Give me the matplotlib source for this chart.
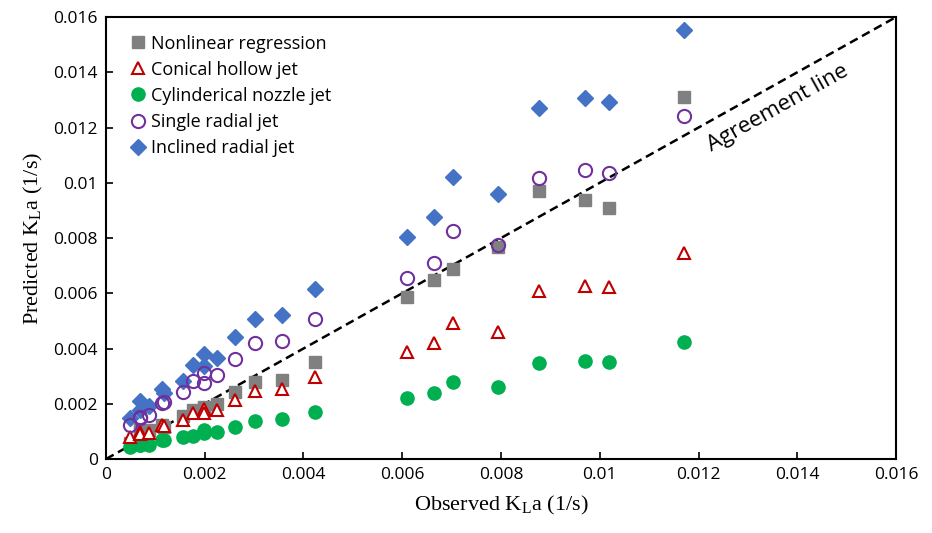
"""
Predicted vs observed KLa for the different jet types, with the 1:1 agreement line.
Values read off the published figure.
"""
import matplotlib
matplotlib.use("Agg")
import matplotlib.pyplot as plt
from matplotlib.ticker import FuncFormatter

# observed KLa (1/s), shared by all series
observed = [0.00049, 0.00068, 0.00069, 0.00088, 0.00113, 0.00118, 0.00157, 0.00177,
            0.00199, 0.00199, 0.00225, 0.00262, 0.00302, 0.00356, 0.00424, 0.0061,
            0.00664, 0.00702, 0.00794, 0.00877, 0.0097, 0.01019, 0.0117]

nonlinear = [0.00057, 0.00105, 0.00098, 0.00105, 0.00123, 0.00117, 0.00156, 0.00178,
             0.00189, 0.00185, 0.00199, 0.00244, 0.0028, 0.00286, 0.0035, 0.00588,
             0.00649, 0.00687, 0.00766, 0.00972, 0.00936, 0.0091, 0.01309]
conical = [0.00079, 0.00097, 0.0009, 0.00095, 0.00123, 0.0012, 0.00141, 0.00166,
           0.0018, 0.00166, 0.00178, 0.00214, 0.00247, 0.00253, 0.00298, 0.00389,
           0.00421, 0.00492, 0.00461, 0.0061, 0.00628, 0.00622, 0.00745]
cylindrical = [0.00042, 0.00051, 0.0005, 0.00051, 0.00069, 0.00069, 0.00079, 0.00083,
               0.00105, 0.00095, 0.00099, 0.00117, 0.00139, 0.00144, 0.00169, 0.0022,
               0.0024, 0.00278, 0.00262, 0.00347, 0.00356, 0.00353, 0.00423]
single_radial = [0.00123, 0.00147, 0.00152, 0.00159, 0.00204, 0.00208, 0.00244, 0.00284,
                 0.00311, 0.00276, 0.00304, 0.00361, 0.00419, 0.00429, 0.00506, 0.00655,
                 0.00711, 0.00824, 0.00775, 0.01017, 0.01047, 0.01037, 0.0124]
inclined_radial = [0.00147, 0.00211, 0.00178, 0.00192, 0.00253, 0.00238, 0.00284, 0.00341,
                   0.0038, 0.00337, 0.00367, 0.0044, 0.00507, 0.00522, 0.00616, 0.00804,
                   0.00877, 0.01022, 0.0096, 0.01272, 0.01308, 0.01293, 0.01554]

ticks = [0, 0.002, 0.004, 0.006, 0.008, 0.01, 0.012, 0.014, 0.016]
limit = 0.016

fig = plt.figure(figsize=(9.32, 5.33), dpi=100)
ax = fig.add_axes([0.1137, 0.1388, 0.8477, 0.8292])

# agreement line
ax.plot([0, limit], [0, limit], color="black", linestyle=(0, (3.5, 2)), linewidth=1.8, zorder=1)

ax.plot(observed, nonlinear, "s", color="#808080", markersize=9, linestyle="none",
        label="Nonlinear regression", zorder=3)
ax.plot(observed, conical, "^", color="#C00000", markerfacecolor="white", markeredgewidth=1.5,
        markersize=8.5, linestyle="none", label="Conical hollow jet", zorder=4)
ax.plot(observed, cylindrical, "o", color="#00B050", markersize=9.5, linestyle="none",
        label="Cylinderical nozzle jet", zorder=3)
ax.plot(observed, single_radial, "o", color="#7030A0", markerfacecolor="none", markeredgewidth=1.5,
        markersize=9.5, linestyle="none", label="Single radial jet", zorder=4)
ax.plot(observed, inclined_radial, "D", color="#4472C4", markersize=8, linestyle="none",
        label="Inclined radial jet", zorder=3)

ax.set_xlim(0, limit)
ax.set_ylim(0, limit)
ax.set_xticks(ticks)
ax.set_yticks(ticks)
fmt = FuncFormatter(lambda v, pos: "0" if v == 0 else f"{v:g}")
ax.xaxis.set_major_formatter(fmt)
ax.yaxis.set_major_formatter(fmt)
ax.tick_params(direction="in", length=5, width=1.2, labelsize=12.5, pad=6)
for lbl in ax.get_xticklabels() + ax.get_yticklabels():
    lbl.set_family("Open Sans")
for s in ax.spines.values():
    s.set_linewidth(1.5)

ax.set_xlabel("Observed K$_\\mathregular{L}$a (1/s)", family="Liberation Serif", fontsize=16, labelpad=8)
ax.set_ylabel("Predicted K$_\\mathregular{L}$a (1/s)", family="Liberation Serif", fontsize=16, labelpad=6)

ax.text(0.0136, 0.0127, "Agreement line", rotation=29.2, rotation_mode="anchor",
        ha="center", va="center", fontsize=16, family="Open Sans")

ax.legend(loc="upper left", bbox_to_anchor=(0.013, 0.985), frameon=False, handletextpad=0.15,
          labelspacing=0.45, borderaxespad=0.2, prop={"family": "Open Sans", "size": 13},
          handlelength=1.2)

fig.savefig("out.png", dpi=100)
